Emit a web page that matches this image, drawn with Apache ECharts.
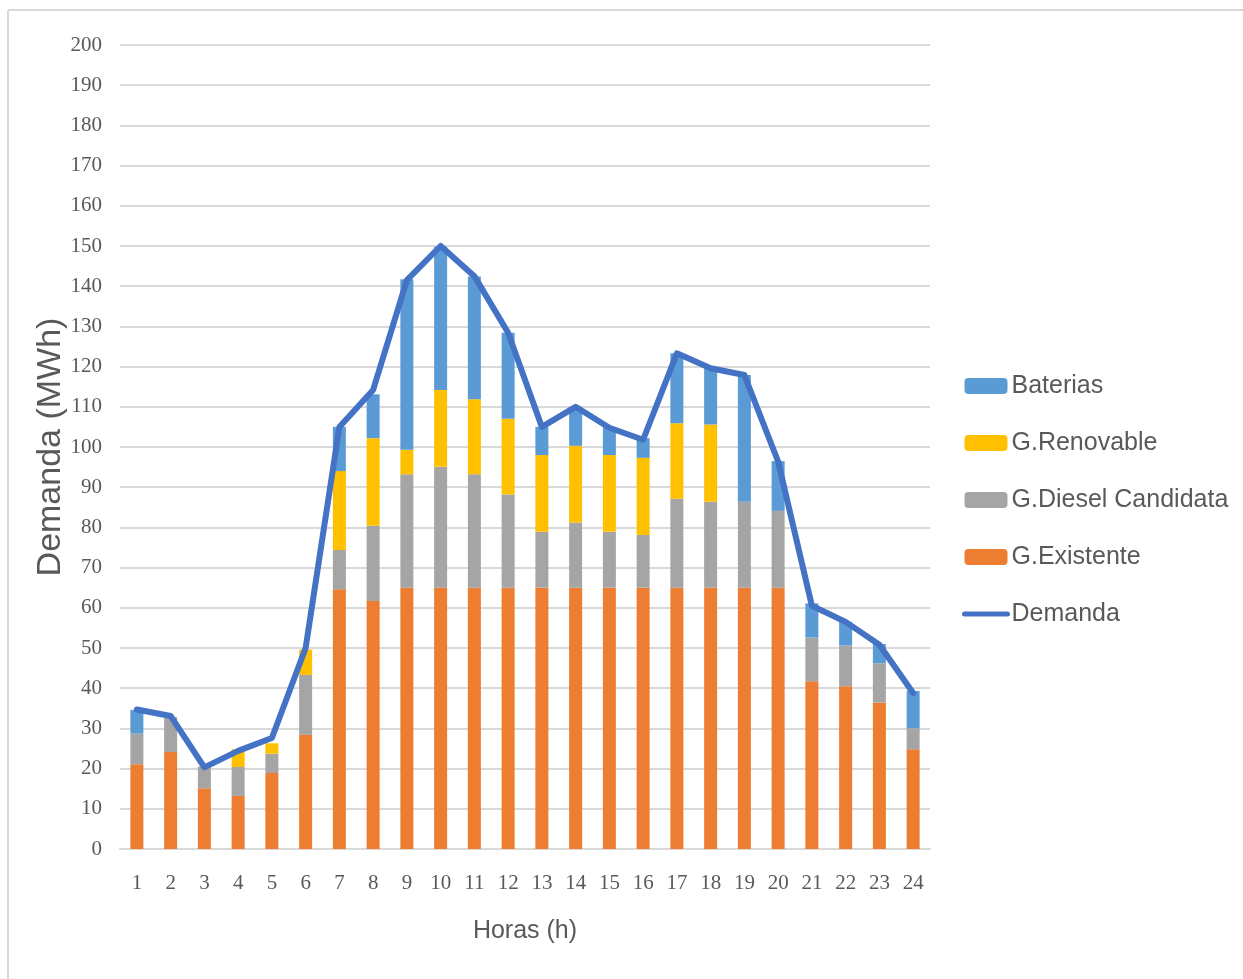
<!DOCTYPE html>
<html>
<head>
<meta charset="utf-8">
<script src="https://cdn.jsdelivr.net/npm/echarts@6/dist/echarts.min.js"></script>
<style>html,body{margin:0;padding:0;background:#fff;}#c{width:1243px;height:979px;}</style>
</head>
<body>
<div id="c"></div>
<script>
const hours = ['1','2','3','4','5','6','7','8','9','10','11','12','13','14','15','16','17','18','19','20','21','22','23','24'];
const gExistente = [21.1,24.1,15.1,13.2,18.9,28.4,64.6,61.7,65,65,65,65,65,65,65,65,65,65,65,65,41.7,40.5,36.4,24.8];
const gDiesel = [7.6,8.7,5.4,7.2,4.8,14.9,9.8,18.7,28.2,30.1,28.2,23.2,13.9,16.2,13.9,13.1,22.1,21.4,21.4,19.1,10.9,10.1,9.8,5.2];
const gRenovable = [0,0,0,4.4,2.6,6.3,19.6,21.8,6.1,19.1,18.7,18.8,19.1,19.1,19.1,19.2,18.8,19.2,0,0,0,0,0,0];
const baterias = [5.9,0,0,0,0,0,11,10.9,42.4,35.6,30.5,21.4,7,9.7,7,4.9,17.4,14,31.5,12.4,8.5,5.9,4.8,9.3];
const demanda = [34.7,33.1,20.3,24.4,27.6,50,105,114.2,141.5,150,142.5,128.4,105,110,104.8,101.8,123.3,119.6,117.9,96.4,60.5,56.5,50.8,38.8];
const legendNames = ['Baterias','G.Renovable','G.Diesel Candidata','G.Existente','Demanda'];

const chart = echarts.init(document.getElementById('c'), null, {renderer:'canvas'});
const barCommon = {type:'bar', stack:'total', barWidth:13, emphasis:{disabled:true}};
chart.setOption({
  animation:false,
  backgroundColor:'#ffffff',
  graphic:[
    {type:'line', shape:{x1:8,y1:10,x2:1243,y2:10}, style:{stroke:'#d9d9d9', lineWidth:2}},
    {type:'line', shape:{x1:8,y1:10,x2:8,y2:979}, style:{stroke:'#d9d9d9', lineWidth:2}}
  ],
  grid:{left:120, right:313, top:45, bottom:130, containLabel:false},
  legend:{
    orient:'vertical', left:957, top:366, itemWidth:43, itemHeight:16, itemGap:27,
    data:legendNames.map(n => n === 'Demanda'
      ? {name:n, itemStyle:{opacity:0}, lineStyle:{width:5, cap:'round', color:'#4472C4'}}
      : {name:n}),
    textStyle:{fontFamily:'Liberation Sans', fontSize:25, color:'#595959', lineHeight:30, padding:[0,0,0,-1]}
  },
  xAxis:{
    type:'category', data:hours,
    name:'Horas (h)', nameLocation:'middle', nameGap:70,
    nameTextStyle:{fontFamily:'Liberation Sans', fontSize:25, color:'#595959'},
    axisLine:{lineStyle:{color:'#d9d9d9', width:2}},
    axisTick:{show:false},
    axisLabel:{fontFamily:'Liberation Serif', fontSize:21, color:'#595959', margin:24}
  },
  yAxis:{
    type:'value', min:0, max:200, interval:10,
    name:'Demanda (MWh)', nameLocation:'middle', nameGap:52, nameMoveOverlap:false,
    nameTextStyle:{fontFamily:'Liberation Sans', fontSize:34, color:'#595959'},
    axisLine:{show:false}, axisTick:{show:false},
    axisLabel:{fontFamily:'Liberation Serif', fontSize:21, color:'#595959', margin:18},
    splitLine:{lineStyle:{color:'#d9d9d9', width:2}}
  },
  series:[
    Object.assign({name:'G.Existente', data:gExistente, itemStyle:{color:'#ED7D31'}}, barCommon),
    Object.assign({name:'G.Diesel Candidata', data:gDiesel, itemStyle:{color:'#A5A5A5'}}, barCommon),
    Object.assign({name:'G.Renovable', data:gRenovable, itemStyle:{color:'#FFC000'}}, barCommon),
    Object.assign({name:'Baterias', data:baterias, itemStyle:{color:'#5B9BD5'}}, barCommon),
    {name:'Demanda', type:'line', data:demanda, symbol:'none', showSymbol:false,
     lineStyle:{color:'#4472C4', width:6, cap:'round', join:'round'}, itemStyle:{color:'#4472C4'}, z:5}
  ]
});
</script>
</body>
</html>
